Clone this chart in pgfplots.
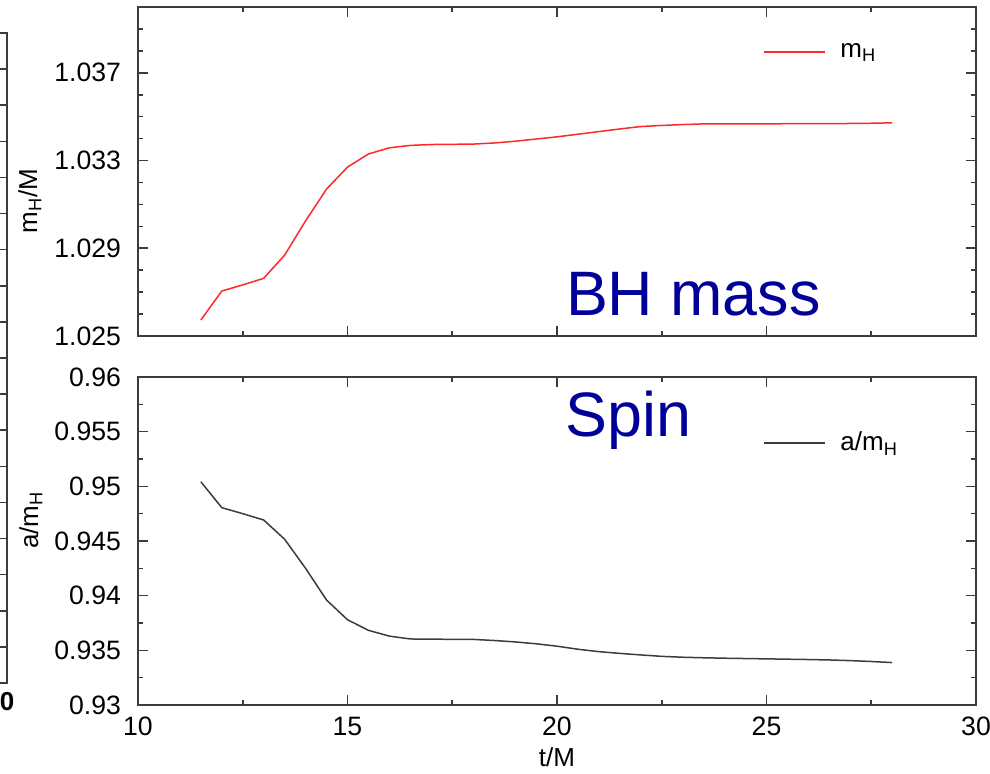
\documentclass[border=0pt]{standalone}
\usepackage{fontspec}
\setmainfont{Liberation Sans}
\usepackage{pgfplots}
\pgfplotsset{compat=1.18}
\definecolor{bhblue}{RGB}{0,0,153}
\definecolor{mred}{RGB}{255,40,40}
\definecolor{agray}{RGB}{60,60,60}
\definecolor{framec}{RGB}{60,60,60}
\pgfplotsset{
  base/.style={
    scale only axis, width=419pt, xmin=10, xmax=30,
    axis line style={framec, line width=0.8pt},
    every tick/.style={framec, line width=0.8pt},
    major tick length=5pt, minor tick length=2.5pt, tick align=inside,
    xtick={10,15,20,25,30}, minor xtick={12.5,17.5,22.5,27.5},
    tick label style={font=\fontsize{13.3}{15}\selectfont},
    yticklabel style={xshift=-5pt},
    xticklabel style={yshift=-2.5pt},
    label style={font=\fontsize{13}{15}\selectfont},
    legend style={draw=none, fill=none, font=\fontsize{13}{15}\selectfont, inner sep=0pt, outer sep=0pt, anchor=west,
      nodes={inner xsep=0pt}},
    legend image code/.code={\draw[##1] (0pt,0pt) -- (30.5pt,0pt);},
  }
}
\begin{document}
\begin{tikzpicture}
% fragment of a neighbouring panel at the left edge
\begin{axis}[scale only axis, at={(3.5pt,45pt)}, anchor=south east, width=200pt, height=325pt,
  xmin=-10, xmax=0, ymin=0, ymax=18,
  axis line style={framec, line width=0.8pt}, every tick/.style={framec, line width=0.8pt},
  major tick length=5pt, tick align=inside,
  ytick={1,2,...,17}, yticklabels={}, xtick={0}, xticklabels={\textbf{0}},
  xtick pos=bottom, xticklabel style={yshift=-1pt},
  tick label style={font=\fontsize{13}{15}\selectfont}]
\end{axis}
% top panel: BH mass
\begin{axis}[base, at={(69pt,218.5pt)}, anchor=south west, height=164.5pt,
  ymin=1.025, ymax=1.040,
  ytick={1.025,1.029,1.033,1.037}, yticklabels={1.025,1.029,1.033,1.037},
  minor ytick={1.026,1.027,1.028,1.030,1.031,1.032,1.034,1.035,1.036,1.038,1.039},
  xticklabels={},
  ylabel={m\textsubscript{H}/M},
  ylabel style={at={(rel axis cs:-0.129,0.41)}, anchor=center},
  legend style={at={(0.7458,0.863)}}]
\addplot[mred, line width=0.75pt] coordinates {
(11.5,1.02573) (12,1.02705) (12.5,1.02733) (13,1.02763) (13.5,1.02869)
(14,1.03025) (14.5,1.03170) (15,1.03270) (15.5,1.03330) (16,1.03358)
(16.5,1.03369) (17,1.03373) (17.5,1.03374) (18,1.03375) (18.5,1.03380)
(19,1.03388) (19.5,1.03398) (20,1.03408) (20.5,1.03420) (21,1.03432)
(21.5,1.03444) (22,1.03455) (22.5,1.03460) (23,1.03464) (23.5,1.03467)
(24,1.03467) (24.5,1.03467) (25,1.03467) (25.5,1.03468) (26,1.03468)
(26.5,1.03468) (27,1.03469) (27.5,1.03470) (28,1.03472)};
\addlegendentry{\hspace{7.5pt}m\textsubscript{H}}
\end{axis}
% bottom panel: spin
\begin{axis}[base, at={(69pt,34pt)}, anchor=south west, height=164pt,
  ymin=0.93, ymax=0.96,
  ytick={0.93,0.935,0.94,0.945,0.95,0.955,0.96},
  yticklabels={0.93,0.935,0.94,0.945,0.95,0.955,0.96},
  minor ytick={0.9325,0.9375,0.9425,0.9475,0.9525,0.9575},
  xticklabels={10,15,20,25,30},
  xlabel={t/M},
  xlabel style={at={(rel axis cs:0.5,-0.1585)}, anchor=center},
  ylabel={a/m\textsubscript{H}},
  ylabel style={at={(rel axis cs:-0.128,0.564)}, anchor=center},
  legend style={at={(0.7458,0.799)}}]
\addplot[agray, line width=0.75pt] coordinates {
(11.5,0.95042) (12,0.94805) (12.5,0.94750) (13,0.94692) (13.5,0.94516)
(14,0.94250) (14.5,0.93960) (15,0.93780) (15.5,0.93683) (16,0.93630)
(16.5,0.93604) (17,0.93602) (17.5,0.93601) (18,0.93600) (18.5,0.93590)
(19,0.93577) (19.5,0.93560) (20,0.93538) (20.5,0.93510) (21,0.93488)
(21.5,0.93472) (22,0.93458) (22.5,0.93445) (23,0.93437) (23.5,0.93432)
(24,0.93428) (24.5,0.93425) (25,0.93422) (25.5,0.93419) (26,0.93416)
(26.5,0.93412) (27,0.93406) (27.5,0.93398) (28,0.93388)};
\addlegendentry{\hspace{7.5pt}a/m\textsubscript{H}}
\end{axis}
\node[anchor=base west, inner sep=0pt, text=bhblue, font=\fontsize{31.4}{36}\selectfont] at (282.8pt,229pt) {BH mass};
\node[anchor=base west, inner sep=0pt, text=bhblue, font=\fontsize{31.4}{36}\selectfont] at (282.5pt,168.5pt) {Spin};
\pgfresetboundingbox
\useasboundingbox (0pt,0pt) rectangle (495pt,386.5pt);
\end{tikzpicture}
\end{document}
